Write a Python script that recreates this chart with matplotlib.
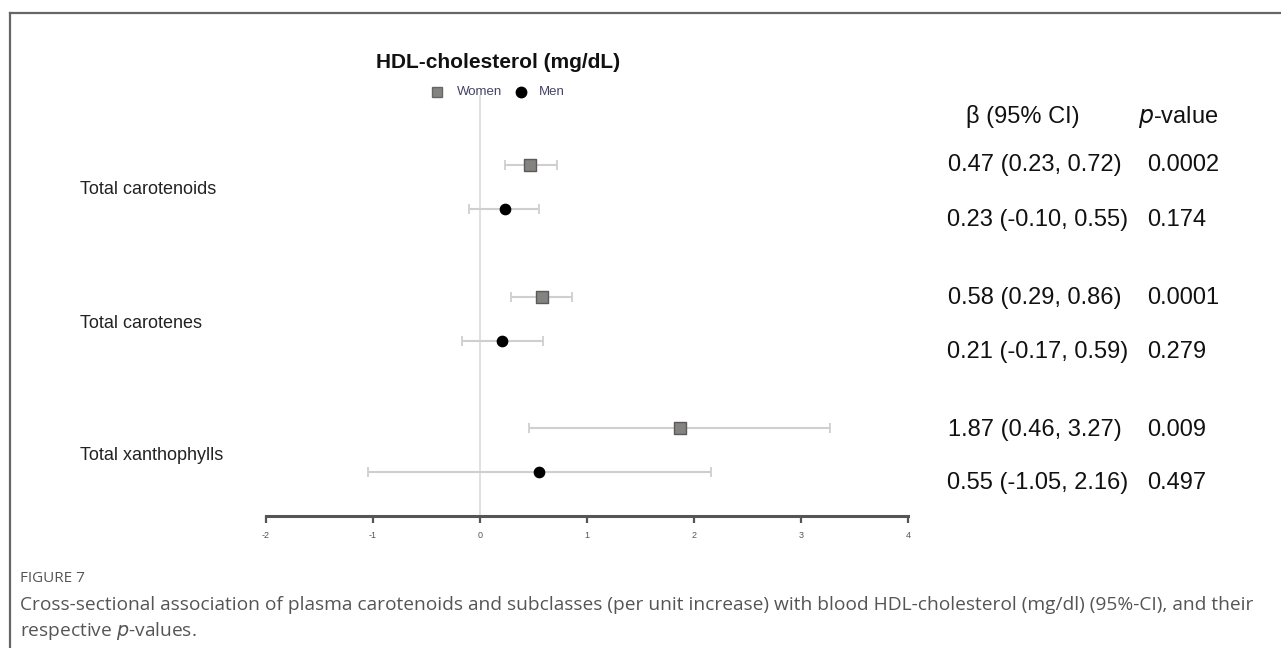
import matplotlib
matplotlib.use("Agg")
import matplotlib.pyplot as plt
from matplotlib.lines import Line2D

# ---- data ----
categories = ["Total carotenoids", "Total carotenes", "Total xanthophylls"]
groups = ["Women", "Men"]

women_beta = [0.47, 0.58, 1.87]
women_lo = [0.23, 0.29, 0.46]
women_hi = [0.72, 0.86, 3.27]
women_p = ["0.0002", "0.0001", "0.009"]

men_beta = [0.23, 0.21, 0.55]
men_lo = [-0.10, -0.17, -1.05]
men_hi = [0.55, 0.59, 2.16]
men_p = ["0.174", "0.279", "0.497"]

x_ticks = [-2, -1, 0, 1, 2, 3, 4]

W, H = 1281, 648
fig = plt.figure(figsize=(W / 100, H / 100), dpi=100)
plt.rcParams['font.family'] = ['Liberation Sans', 'DejaVu Sans']


def px(x, y):
    # pixel (top-left origin) -> figure fraction
    return x / W, 1 - y / H


# outer frame (top + left)
fig.add_artist(Line2D([10 / W, 1.0], [1 - 13 / H, 1 - 13 / H], color="#666666", lw=1.6))
fig.add_artist(Line2D([10 / W, 10 / W], [0, 1 - 13 / H], color="#666666", lw=1.6))

# forest plot axes: x -2..4 -> px 266..908, y -1.6..8 -> px 95..516
ax = fig.add_axes([266 / W, 1 - 516 / H, (908 - 266) / W, (516 - 95) / H])
ax.set_xlim(-2, 4)
ax.set_ylim(8, -1.6)

w_pos = [3 * i for i in range(len(categories))]
m_pos = [3 * i + 1 for i in range(len(categories))]

ax.axvline(0, color="#dddddd", lw=1.3, zorder=1)

ax.errorbar(women_beta, w_pos,
            xerr=[[b - l for b, l in zip(women_beta, women_lo)],
                  [h - b for b, h in zip(women_beta, women_hi)]],
            fmt="none", ecolor="#cfcfcf", elinewidth=1.5, capsize=3.5, capthick=1.3, zorder=2)
ax.errorbar(men_beta, m_pos,
            xerr=[[b - l for b, l in zip(men_beta, men_lo)],
                  [h - b for b, h in zip(men_beta, men_hi)]],
            fmt="none", ecolor="#cfcfcf", elinewidth=1.5, capsize=3.5, capthick=1.3, zorder=2)
ax.scatter(women_beta, w_pos, marker="s", s=78, color="#858380", edgecolors="#5a5a5a",
           linewidths=1.0, zorder=3)
ax.scatter(men_beta, m_pos, marker="o", s=55, color="black", zorder=3)

for s in ["top", "right", "left"]:
    ax.spines[s].set_visible(False)
ax.spines["bottom"].set_color("#555555")
ax.spines["bottom"].set_linewidth(2.2)
ax.set_yticks([])
ax.set_xticks(x_ticks)
ax.set_xticklabels([str(t) for t in x_ticks], fontsize=6.5, color="#555555")
ax.tick_params(axis="x", length=5, width=1.6, color="#555555", pad=6)
ax.patch.set_visible(False)

# category labels
for i, c in enumerate(categories):
    fig.text(*px(80, 190 + 133 * i), c, fontsize=13, color="#222222", va="center", ha="left")

# title and legend
fig.text(*px(498, 62), "HDL-cholesterol (mg/dL)", fontsize=15, fontweight="bold",
         ha="center", va="center", color="#111111")
fig.add_artist(Line2D([437 / W], [1 - 92 / H], marker="s", markersize=7.5, color="#858380",
                      markeredgecolor="#666666", linestyle="none"))
fig.text(*px(457, 92), "Women", fontsize=9.5, color="#444466", va="center", ha="left")
fig.add_artist(Line2D([521 / W], [1 - 92 / H], marker="o", markersize=7.5, color="black",
                      linestyle="none"))
fig.text(*px(539, 92), "Men", fontsize=9.5, color="#444466", va="center", ha="left")

# table on the right
fig.text(*px(1023, 117), "β (95% CI)", fontsize=17, ha="center", va="center", color="#111111")
fig.text(*px(1178, 117), "$\\it{p}$-value", fontsize=17, ha="center", va="center", color="#111111")
row_y_w = [165, 298, 430]
row_y_m = [220, 352, 483]
for i in range(len(categories)):
    fig.text(*px(1035, row_y_w[i]), f"{women_beta[i]:.2f} ({women_lo[i]:.2f}, {women_hi[i]:.2f})",
             fontsize=17, ha="center", va="center", color="#111111")
    fig.text(*px(1147, row_y_w[i]), women_p[i], fontsize=17, ha="left", va="center", color="#111111")
    fig.text(*px(1038, row_y_m[i]), f"{men_beta[i]:.2f} ({men_lo[i]:.2f}, {men_hi[i]:.2f})",
             fontsize=17, ha="center", va="center", color="#111111")
    fig.text(*px(1147, row_y_m[i]), men_p[i], fontsize=17, ha="left", va="center", color="#111111")

# caption
fig.text(*px(20, 578), "FIGURE 7", fontsize=11, family="Open Sans", color="#555555", va="center")
fig.text(*px(20, 605),
         "Cross-sectional association of plasma carotenoids and subclasses (per unit increase) "
         "with blood HDL-cholesterol (mg/dl) (95%-CI), and their",
         fontsize=13.8, family="Open Sans", color="#555555", va="center")
fig.text(*px(20, 631), "respective $\\it{p}$-values.", fontsize=13.8, family="Open Sans",
         color="#555555", va="center")

fig.savefig("out.png", dpi=100)
